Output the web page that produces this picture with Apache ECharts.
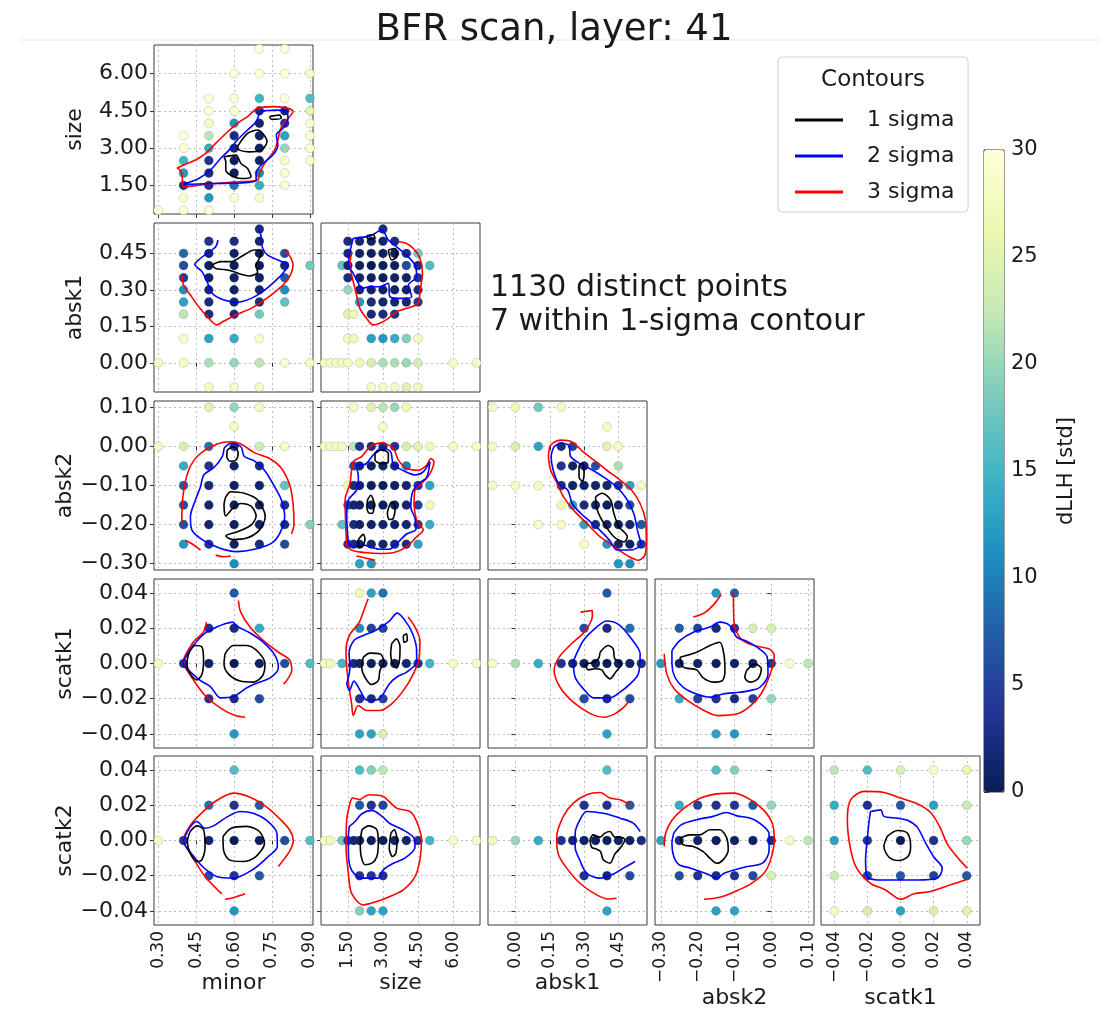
<!DOCTYPE html>
<html><head><meta charset="utf-8">
<script src="https://cdn.jsdelivr.net/npm/echarts/dist/echarts.min.js"></script>
<style>html,body{margin:0;padding:0;background:#fff}#chart{width:1108px;height:1025px}</style>
</head><body><div id="chart"></div>
<script>
// ---------------- data ----------------
const titleText = 'BFR scan, layer: 41';
const noteLines = ['1130 distinct points', '7 within 1-sigma contour'];
const legendNames = ['1 sigma', '2 sigma', '3 sigma'];
const legendTitle = 'Contours';
const colorbarName = 'dLLH [std]';
const colorbarRange = [0, 30];

const colVars = ['minor', 'size', 'absk1', 'absk2', 'scatk1'];
const rowVars = ['size', 'absk1', 'absk2', 'scatk1', 'scatk2'];

const minorRange = [0.283, 0.912];
const sizeRange = [0.35, 7.15];
const absk1Range = [-0.12, 0.575];
const absk2Range = [-0.316, 0.116];
const scatk1Range = [-0.048, 0.048];
const scatk2Range = [-0.048, 0.048];

const minorTicks = [0.30, 0.45, 0.60, 0.75, 0.90];
const sizeTicks = [1.5, 3.0, 4.5, 6.0];
const absk1Ticks = [0.00, 0.15, 0.30, 0.45];
const absk2Ticks = [-0.30, -0.20, -0.10, 0.00, 0.10];
const scatk1Ticks = [-0.04, -0.02, 0.00, 0.02, 0.04];
const scatk2Ticks = [-0.04, -0.02, 0.00, 0.02, 0.04];

const loop = p => p.concat([p[0]]);

// points: [x, y, dLLH]
const pts_size_minor = [
 [0.7,7,30],[0.8,7,30],
 [0.6,6,30],[0.7,6,30],[0.8,6,30],[0.9,6,28],
 [0.5,5,30],[0.6,5,29],[0.7,5,15],[0.8,5,30],[0.9,5,16],
 [0.5,4.5,30],[0.6,4.5,29],[0.7,4.5,2.5],[0.8,4.5,1.5],[0.9,4.5,25],
 [0.5,4,28],[0.6,4,12],[0.7,4,1.5],[0.8,4,4],[0.9,4,29],
 [0.4,3.5,30],[0.5,3.5,22],[0.6,3.5,2.5],[0.7,3.5,1],[0.8,3.5,13],[0.9,3.5,29],
 [0.4,3,30],[0.5,3,14],[0.6,3,1.5],[0.7,3,1],[0.8,3,20],[0.9,3,29],
 [0.4,2.5,15],[0.5,2.5,3.5],[0.6,2.5,0.5],[0.7,2.5,1],[0.8,2.5,29],[0.9,2.5,29],
 [0.4,2,12],[0.5,2,2.5],[0.6,2,0.5],[0.7,2,11],[0.8,2,29],
 [0.4,1.5,3],[0.5,1.5,3.5],[0.6,1.5,9],[0.7,1.5,14],[0.8,1.5,29],
 [0.4,1,29],[0.5,1,12],[0.6,1,29],[0.7,1,29],
 [0.3,0.5,30],[0.4,0.5,30],[0.5,0.5,30]
];
const pts_absk1_minor = [
 [0.7,0.55,2.5],
 [0.5,0.5,3.5],[0.6,0.5,2.5],[0.7,0.5,1.5],
 [0.4,0.45,8],[0.5,0.45,1.5],[0.6,0.45,1],[0.7,0.45,0.5],[0.8,0.45,6],
 [0.4,0.4,6],[0.5,0.4,0.5],[0.6,0.4,0.5],[0.7,0.4,0.5],[0.8,0.4,1.5],[0.9,0.4,18],
 [0.4,0.35,4],[0.5,0.35,1],[0.6,0.35,1],[0.7,0.35,1],[0.8,0.35,7],
 [0.4,0.3,11],[0.5,0.3,1.5],[0.6,0.3,1],[0.7,0.3,1.5],[0.8,0.3,11],
 [0.4,0.25,13],[0.5,0.25,2.5],[0.6,0.25,1.5],[0.7,0.25,2.5],[0.8,0.25,17],
 [0.4,0.2,22],[0.5,0.2,2.5],[0.6,0.2,2.5],[0.7,0.2,18],
 [0.4,0.1,29],[0.5,0.1,13],[0.6,0.1,14],[0.7,0.1,29],
 [0.3,0,28],[0.4,0,28],[0.5,0,21],[0.6,0,20],[0.7,0,22],[0.8,0,29],[0.9,0,28],
 [0.5,-0.1,28],[0.6,-0.1,28],[0.7,-0.1,28]
];
const pts_absk1_size = [
 [3,0.55,2.5],
 [1.5,0.5,2.5],[2,0.5,1.5],[2.5,0.5,1],[3,0.5,1.5],[3.5,0.5,2.5],
 [1.5,0.45,1.5],[2,0.45,1],[2.5,0.45,0.5],[3,0.45,0.5],[3.5,0.45,0.5],[4,0.45,2.5],[4.5,0.45,18],
 [1.25,0.4,17],[1.5,0.4,1.5],[2,0.4,0.5],[2.5,0.4,0],[3,0.4,0.5],[3.5,0.4,0.5],[4,0.4,6],[4.5,0.4,2.5],[5,0.4,16],
 [1.5,0.35,2.5],[2,0.35,1],[2.5,0.35,0.5],[3,0.35,0.5],[3.5,0.35,1],[4,0.35,1],[4.5,0.35,3.5],
 [1.5,0.3,20],[2,0.3,1.5],[2.5,0.3,1],[3,0.3,1],[3.5,0.3,1],[4,0.3,1],[4.5,0.3,2.5],
 [2,0.25,12],[2.5,0.25,2.5],[3,0.25,1.5],[3.5,0.25,1.5],[4,0.25,1.5],[4.5,0.25,4],
 [1.5,0.2,25],[1.75,0.2,27],[2.5,0.2,2.5],[3,0.2,2.5],[3.5,0.2,3.5],
 [1.5,0.1,28],[1.75,0.1,27],[2.5,0.1,13],[3,0.1,12],[3.5,0.1,14],[4,0.1,19],[4.5,0.1,28],
 [0.5,0,28],[0.75,0,28],[1,0,28],[1.25,0,28],[1.5,0,28],[2,0,27],[2.5,0,24],[3,0,21],[3.5,0,21],[4,0,20],[4.5,0,24],[6,0,28],[7,0,28],
 [2.5,-0.1,28],[3,-0.1,28],[3.5,-0.1,28],[4,-0.1,25],[4.5,-0.1,27]
];
const pts_absk2_minor = [
 [0.5,0.1,25],[0.6,0.1,20],[0.7,0.1,28],
 [0.6,0.05,28],
 [0.3,0,28],[0.4,0,24],[0.5,0,9],[0.6,0,3.5],[0.7,0,23],[0.8,0,28],
 [0.4,-0.05,14],[0.5,-0.05,3.5],[0.6,-0.05,1],[0.7,-0.05,2.5],
 [0.4,-0.1,7],[0.5,-0.1,2.5],[0.6,-0.1,1],[0.7,-0.1,1.5],[0.8,-0.1,17],
 [0.4,-0.15,6],[0.5,-0.15,1.5],[0.6,-0.15,0.5],[0.7,-0.15,1],[0.8,-0.15,3.5],
 [0.4,-0.2,6],[0.5,-0.2,1.5],[0.6,-0.2,0.5],[0.7,-0.2,1],[0.8,-0.2,2.5],[0.9,-0.2,19],
 [0.4,-0.25,12],[0.5,-0.25,3.5],[0.6,-0.25,1],[0.7,-0.25,2.5],[0.8,-0.25,6],
 [0.6,-0.3,11]
];
const pts_absk2_size = [
 [1.75,0.1,28],[2.5,0.1,25],[3,0.1,22],[3.5,0.1,20],[4,0.1,27],
 [3,0.05,28],
 [0.5,0,28],[0.75,0,28],[1,0,28],[1.25,0,28],[1.75,0,22],[2,0,3.5],[2.5,0,2.5],[3,0,2.5],[3.5,0,3.5],[4,0,24],[4.5,0,25],[5,0,27],[6,0,28],[7,0,28],
 [1.75,-0.05,6],[2,-0.05,1.5],[2.5,-0.05,1],[3,-0.05,1],[3.5,-0.05,1.5],[4,-0.05,10],
 [1.5,-0.1,27],[1.75,-0.1,2.5],[2,-0.1,1],[2.5,-0.1,0.5],[3,-0.1,0.5],[3.5,-0.1,1],[4,-0.1,1.5],[4.5,-0.1,3.5],[5,-0.1,13],
 [1.5,-0.15,5],[1.75,-0.15,1.5],[2,-0.15,1],[2.5,-0.15,0.5],[3,-0.15,0.5],[3.5,-0.15,0.5],[4,-0.15,1.5],[4.5,-0.15,5],[5,-0.15,27],
 [1.25,-0.2,17],[1.75,-0.2,2.5],[2,-0.2,1],[2.5,-0.2,1],[3,-0.2,1],[3.5,-0.2,1],[4,-0.2,1.5],[4.5,-0.2,3.5],[5,-0.2,14],
 [1.5,-0.25,3.5],[1.75,-0.25,2.5],[2,-0.25,1.5],[2.5,-0.25,1.5],[3,-0.25,1.5],[3.5,-0.25,2.5],[4,-0.25,2.5],[4.5,-0.25,13],
 [2,-0.3,13],[2.5,-0.3,12]
];
const pts_absk2_absk1 = [
 [-0.1,0.1,28],[0,0.1,27],[0.1,0.1,18],[0.2,0.1,28],
 [0.4,0.05,28],
 [-0.1,0,28],[0,0,24],[0.1,0,13],[0.2,0,2.5],[0.25,0,5],[0.4,0,25],[0.45,0,28],
 [0.2,-0.05,3.5],[0.25,-0.05,1],[0.3,-0.05,1.5],[0.35,-0.05,6],[0.45,-0.05,21],
 [-0.1,-0.1,28],[0,-0.1,28],[0.1,-0.1,28],[0.2,-0.1,2.5],[0.25,-0.1,1],[0.3,-0.1,1],[0.35,-0.1,1.5],[0.4,-0.1,1.5],[0.45,-0.1,3.5],[0.5,-0.1,13],[0.55,-0.1,28],
 [0.2,-0.15,27],[0.25,-0.15,13],[0.3,-0.15,2.5],[0.35,-0.15,1],[0.4,-0.15,0.5],[0.45,-0.15,1.5],[0.5,-0.15,6],
 [0.1,-0.2,28],[0.2,-0.2,28],[0.3,-0.2,13],[0.35,-0.2,2.5],[0.4,-0.2,1],[0.45,-0.2,0.5],[0.5,-0.2,1.5],[0.55,-0.2,7],
 [0.3,-0.25,28],[0.4,-0.25,12],[0.45,-0.25,1.5],[0.5,-0.25,1],[0.55,-0.25,3.5],
 [0.45,-0.3,12],[0.5,-0.3,11]
];
const pts_scatk1_minor = [
 [0.6,0.04,7],
 [0.5,0.02,3.5],[0.6,0.02,2.5],[0.7,0.02,14],
 [0.3,0,28],[0.4,0,3.5],[0.5,0,1],[0.6,0,0],[0.7,0,1],[0.8,0,6],[0.9,0,16],
 [0.5,-0.02,3.5],[0.6,-0.02,2.5],[0.7,-0.02,6],
 [0.6,-0.04,12]
];
const pts_scatk1_size = [
 [2,0.04,27],[2.5,0.04,13],[3,0.04,9],
 [2,0.02,11],[2.5,0.02,5],[3,0.02,5],
 [0.5,0,28],[0.75,0,27],[1.25,0,15],[1.75,0,2.5],[2,0,1],[2.5,0,0.5],[3,0,1],[3.5,0,0.5],[4,0,1.5],[4.5,0,3.5],[5,0,15],[6,0,28],[7,0,28],
 [2,-0.02,3.5],[2.5,-0.02,2.5],[3,-0.02,5],
 [2,-0.04,13],[2.5,-0.04,13],[3,-0.04,24]
];
const pts_scatk1_absk1 = [
 [0.4,0.04,7],
 [0.3,0.02,6],[0.4,0.02,2.5],[0.5,0.02,9],
 [-0.1,0,28],[0,0,21],[0.1,0,14],[0.2,0,3.5],[0.25,0,1.5],[0.3,0,1],[0.35,0,0.5],[0.4,0,0],[0.45,0,1],[0.5,0,1],[0.55,0,2.5],
 [0.3,-0.02,6],[0.4,-0.02,2.5],[0.5,-0.02,6],
 [0.4,-0.04,13]
];
const pts_scatk1_absk2 = [
 [-0.15,0.04,12],[-0.1,0.04,8],
 [-0.25,0.02,7],[-0.2,0.02,5],[-0.15,0.02,2.5],[-0.1,0.02,3.5],[-0.05,0.02,24],[0,0.02,24],
 [-0.3,0,12],[-0.25,0,1.5],[-0.2,0,1],[-0.15,0,0.5],[-0.1,0,1],[-0.05,0,1],[0,0,3.5],[0.05,0,29],[0.1,0,22],
 [-0.25,-0.02,14],[-0.2,-0.02,5],[-0.15,-0.02,3.5],[-0.1,-0.02,2.5],[-0.05,-0.02,5],[0,-0.02,20],
 [-0.15,-0.04,13],[-0.1,-0.04,12]
];
const pts_scatk2_minor = [
 [0.6,0.04,16],
 [0.5,0.02,9],[0.6,0.02,3.5],[0.7,0.02,7],
 [0.3,0,28],[0.4,0,3.5],[0.5,0,1.5],[0.6,0,0],[0.7,0,0.5],[0.8,0,6],[0.9,0,16],
 [0.5,-0.02,6],[0.6,-0.02,3.5],[0.7,-0.02,7],
 [0.6,-0.04,12]
];
const pts_scatk2_size = [
 [2,0.04,16],[2.5,0.04,19],[3,0.04,22],
 [2,0.02,7],[2.5,0.02,3.5],[3,0.02,5],
 [0.5,0,28],[0.75,0,27],[1.25,0,18],[1.5,0,3.5],[1.75,0,1.5],[2,0,1],[2.5,0,0.5],[3,0,0.5],[3.5,0,1],[4,0,1.5],[4.5,0,3.5],[5,0,15],[6,0,28],[7,0,28],
 [2,-0.02,3.5],[2.5,-0.02,3.5],[3,-0.02,3.5],
 [2,-0.04,19],[2.5,-0.04,13],[3,-0.04,13]
];
const pts_scatk2_absk1 = [
 [0.4,0.04,16],
 [0.3,0.02,3.5],[0.4,0.02,3.5],[0.5,0.02,7],
 [-0.1,0,27],[0,0,20],[0.1,0,14],[0.2,0,3.5],[0.25,0,1.5],[0.3,0,1],[0.35,0,0.5],[0.4,0,0.5],[0.45,0,1],[0.5,0,1],[0.55,0,2.5],
 [0.3,-0.02,3.5],[0.4,-0.02,1.5],[0.5,-0.02,6],
 [0.4,-0.04,13]
];
const pts_scatk2_absk2 = [
 [-0.15,0.04,16],[-0.1,0.04,19],
 [-0.25,0.02,14],[-0.2,0.02,5],[-0.15,0.02,3.5],[-0.1,0.02,3.5],[-0.05,0.02,7],[0,0.02,20],
 [-0.3,0,13],[-0.25,0,2.5],[-0.2,0,1],[-0.15,0,0.5],[-0.1,0,1],[-0.05,0,1],[0,0,2.5],[0.05,0,28],[0.1,0,22],
 [-0.25,-0.02,6],[-0.2,-0.02,3.5],[-0.15,-0.02,2.5],[-0.1,-0.02,3.5],[-0.05,-0.02,6],[0,-0.02,24],
 [-0.15,-0.04,13],[-0.1,-0.04,13]
];
const pts_scatk2_scatk1 = [
 [-0.04,0.04,22],[-0.02,0.04,16],[0,0.04,24],[0.02,0.04,28],[0.04,0.04,26],
 [-0.04,0.02,14],[-0.02,0.02,3.5],[0,0.02,7],[0.02,0.02,13],[0.04,0.02,23],
 [-0.04,0,13],[-0.02,0,3.5],[0,0,0],[0.02,0,3.5],[0.04,0,20],
 [-0.04,-0.02,23],[-0.02,-0.02,5],[0,-0.02,7],[0.02,-0.02,5],[0.04,-0.02,7],
 [-0.04,-0.04,28],[-0.02,-0.04,24],[0,-0.04,13],[0.02,-0.04,24],[0.04,-0.04,25]
];

// contour paths (c1 = 1 sigma, c2 = 2 sigma, c3 = 3 sigma), data coordinates
const c1_size_minor = [
 loop([[0.56,2.65],[0.607,2.72],[0.627,2.38],[0.653,2.18],[0.667,1.85],[0.627,1.78],[0.587,1.91],[0.567,2.12],[0.567,2.45]]),
 loop([[0.613,3.06],[0.653,3.59],[0.693,3.73],[0.73,3.26],[0.707,2.92],[0.66,2.85],[0.62,2.92]]),
 loop([[0.74,4.27],[0.78,4.33],[0.787,4.2],[0.747,4.16]])
];
const c2_size_minor = [
 loop([[0.4,1.55],[0.46,1.78],[0.507,2.12],[0.547,2.59],[0.58,2.92],[0.613,3.33],[0.653,3.73],[0.687,4.06],[0.707,4.47],[0.773,4.53],[0.807,4.47],[0.813,4.2],[0.793,3.8],[0.767,3.53],[0.773,3.12],[0.753,2.72],[0.707,2.32],[0.687,1.98],[0.687,1.71],[0.627,1.6],[0.52,1.58],[0.413,1.55]])
];
const c3_size_minor = [
 [[0.373,2.18],[0.4,2.32],[0.447,2.52],[0.487,2.79],[0.527,3.19],[0.567,3.59],[0.613,4.0],[0.653,4.27],[0.693,4.6],[0.76,4.67],[0.813,4.6],[0.833,4.47],[0.82,4.27],[0.787,3.86],[0.773,3.33],[0.76,2.92],[0.72,2.38],[0.70,1.98],[0.693,1.71],[0.62,1.65],[0.493,1.55],[0.40,1.44],[0.393,1.98],[0.38,2.18]]
];

const c1_absk1_minor = [
 loop([[0.513,0.402],[0.547,0.416],[0.587,0.416],[0.627,0.436],[0.68,0.464],[0.709,0.46],[0.70,0.43],[0.687,0.402],[0.693,0.372],[0.66,0.357],[0.627,0.364],[0.593,0.377],[0.56,0.384],[0.527,0.388]])
];
const c2_absk1_minor = [
 [[0.536,0.505],[0.527,0.477],[0.493,0.45],[0.467,0.43],[0.444,0.405],[0.473,0.375],[0.493,0.334],[0.513,0.286],[0.56,0.258],[0.613,0.249],[0.667,0.265],[0.713,0.293],[0.76,0.334],[0.793,0.368],[0.813,0.402],[0.773,0.423],[0.733,0.443],[0.713,0.47],[0.707,0.518],[0.70,0.546]]
];
const c3_absk1_minor = [
 [[0.80,0.464],[0.824,0.432],[0.833,0.402],[0.824,0.364],[0.80,0.327],[0.76,0.29],[0.713,0.254],[0.667,0.224],[0.613,0.2],[0.56,0.172],[0.531,0.156],[0.50,0.183],[0.46,0.231],[0.427,0.279],[0.40,0.32],[0.393,0.361]]
];

const c1_absk1_size = [
 loop([[2.30,0.522],[2.58,0.528],[2.66,0.512],[2.37,0.509]]),
 loop([[3.23,0.464],[3.52,0.47],[3.59,0.436],[3.37,0.423]])
];
const c2_absk1_size = [
 loop([[1.73,0.512],[2.45,0.522],[2.95,0.546],[3.23,0.505],[3.59,0.477],[4.01,0.443],[4.37,0.402],[4.44,0.354],[4.09,0.32],[4.23,0.272],[3.73,0.265],[3.30,0.272],[3.23,0.327],[2.87,0.313],[2.45,0.313],[2.09,0.306],[1.95,0.327],[1.73,0.368],[1.52,0.405],[1.59,0.457]])
];
const c3_absk1_size = [
 [[3.66,0.498],[4.01,0.491],[4.30,0.47],[4.58,0.43],[4.69,0.368],[4.58,0.293],[4.51,0.245],[4.01,0.224],[3.58,0.21],[3.23,0.183],[2.87,0.163],[2.58,0.156],[2.30,0.183],[2.01,0.224],[1.87,0.279],[1.73,0.334],[1.59,0.402],[1.66,0.457]]
];

const c1_absk2_minor = [
 loop([[0.573,-0.009],[0.597,-0.001],[0.616,-0.016],[0.607,-0.035],[0.584,-0.038],[0.571,-0.025]]),
 loop([[0.567,-0.129],[0.587,-0.116],[0.64,-0.12],[0.693,-0.137],[0.723,-0.18],[0.70,-0.214],[0.647,-0.235],[0.593,-0.238],[0.567,-0.229],[0.613,-0.218],[0.667,-0.201],[0.687,-0.178],[0.667,-0.153],[0.627,-0.146],[0.593,-0.159],[0.567,-0.178],[0.56,-0.15]])
];
const c2_absk2_minor = [
 loop([[0.56,-0.005],[0.587,0.008],[0.627,-0.001],[0.64,-0.026],[0.68,-0.037],[0.72,-0.061],[0.76,-0.103],[0.787,-0.137],[0.80,-0.18],[0.78,-0.223],[0.747,-0.248],[0.68,-0.263],[0.613,-0.269],[0.547,-0.261],[0.48,-0.241],[0.433,-0.214],[0.427,-0.18],[0.447,-0.137],[0.467,-0.103],[0.48,-0.073],[0.52,-0.054],[0.553,-0.026]])
];
const c3_absk2_minor = [
 [[0.393,-0.197],[0.397,-0.129],[0.42,-0.061],[0.46,-0.022],[0.533,0.006],[0.587,0.012],[0.627,0.006],[0.68,-0.016],[0.74,-0.031],[0.787,-0.056],[0.82,-0.099],[0.833,-0.146],[0.837,-0.197],[0.827,-0.224]],
 [[0.407,-0.24],[0.44,-0.252],[0.467,-0.265]],
 [[0.527,-0.278],[0.56,-0.282],[0.587,-0.28]]
];

const c1_absk2_size = [
 loop([[2.66,-0.018],[2.95,-0.009],[3.23,-0.018],[3.23,-0.039],[2.95,-0.044],[2.66,-0.035]]),
 loop([[2.34,-0.137],[2.48,-0.125],[2.62,-0.146],[2.55,-0.171],[2.41,-0.171],[2.31,-0.154]]),
 loop([[3.23,-0.159],[3.37,-0.142],[3.52,-0.154],[3.44,-0.184],[3.27,-0.187],[3.19,-0.171]]),
 loop([[1.95,-0.238],[2.16,-0.225],[2.23,-0.238],[2.09,-0.257],[1.95,-0.257]])
];
const c2_absk2_size = [
 loop([[1.52,-0.248],[1.45,-0.18],[1.52,-0.137],[1.87,-0.112],[1.95,-0.078],[1.87,-0.05],[2.27,-0.045],[2.58,-0.022],[2.95,-0.003],[3.33,-0.014],[3.44,-0.045],[3.87,-0.062],[4.37,-0.073],[4.72,-0.065],[5.01,-0.039],[4.87,-0.079],[4.51,-0.096],[4.27,-0.116],[4.19,-0.154],[4.37,-0.184],[4.41,-0.212],[4.01,-0.224],[3.66,-0.244],[3.27,-0.263],[2.87,-0.263],[2.45,-0.257],[2.02,-0.25],[1.73,-0.257]])
];
const c3_absk2_size = [
 loop([[1.45,-0.257],[1.38,-0.137],[1.59,-0.095],[1.73,-0.039],[2.09,-0.026],[2.45,-0.001],[2.95,0.009],[3.44,-0.005],[3.66,-0.035],[4.01,-0.056],[4.51,-0.061],[4.87,-0.048],[5.04,-0.031],[5.18,-0.039],[4.98,-0.073],[4.65,-0.095],[4.37,-0.112],[4.33,-0.146],[4.44,-0.188],[4.72,-0.214],[4.44,-0.231],[4.01,-0.257],[3.44,-0.272],[2.87,-0.274],[2.30,-0.272],[1.73,-0.267]]),
 [[1.87,-0.28],[2.30,-0.286],[2.66,-0.291]]
];

const c1_absk2_absk1 = [
 loop([[0.278,-0.048],[0.293,-0.043],[0.30,-0.069],[0.293,-0.09],[0.278,-0.078]]),
 loop([[0.35,-0.129],[0.379,-0.12],[0.416,-0.137],[0.43,-0.171],[0.452,-0.205],[0.489,-0.231],[0.475,-0.244],[0.43,-0.231],[0.387,-0.197],[0.358,-0.163]])
];
const c2_absk2_absk1 = [
 loop([[0.168,-0.001],[0.197,0.008],[0.234,0.001],[0.241,-0.026],[0.285,-0.045],[0.332,-0.059],[0.387,-0.079],[0.445,-0.105],[0.489,-0.137],[0.518,-0.173],[0.533,-0.214],[0.548,-0.25],[0.504,-0.265],[0.445,-0.265],[0.413,-0.241],[0.372,-0.216],[0.328,-0.193],[0.285,-0.171],[0.248,-0.146],[0.229,-0.112],[0.19,-0.096],[0.165,-0.061],[0.156,-0.026]])
];
const c3_absk2_absk1 = [
 loop([[0.144,-0.026],[0.154,0.003],[0.197,0.016],[0.245,0.012],[0.296,-0.014],[0.343,-0.035],[0.399,-0.061],[0.457,-0.086],[0.508,-0.112],[0.545,-0.146],[0.568,-0.188],[0.572,-0.24],[0.566,-0.278],[0.537,-0.291],[0.486,-0.278],[0.428,-0.255],[0.37,-0.231],[0.312,-0.197],[0.254,-0.163],[0.21,-0.129],[0.181,-0.093],[0.154,-0.061]])
];

const c1_scatk1_minor = [
 loop([[0.42,0.0055],[0.446,0.0102],[0.473,0.0093],[0.479,0.0017],[0.473,-0.0059],[0.453,-0.0093],[0.426,-0.0059],[0.413,-0.0002]]),
 loop([[0.564,0.0055],[0.597,0.0102],[0.65,0.0102],[0.696,0.0064],[0.722,-0.0002],[0.713,-0.0068],[0.676,-0.0106],[0.624,-0.01],[0.577,-0.0059],[0.56,-0.0002]])
];
const c2_scatk1_minor = [
 loop([[0.399,0.0013],[0.438,0.0102],[0.485,0.0173],[0.531,0.0207],[0.564,0.0226],[0.594,0.0235],[0.613,0.021],[0.663,0.0173],[0.715,0.0121],[0.762,0.0045],[0.775,-0.0025],[0.742,-0.0082],[0.689,-0.0112],[0.65,-0.0138],[0.598,-0.0188],[0.546,-0.0195],[0.506,-0.0131],[0.467,-0.0097],[0.428,-0.0049],[0.399,-0.0002]])
];
const c3_scatk1_minor = [
 [[0.491,0.0235],[0.478,0.0178],[0.438,0.0121],[0.399,0.0008],[0.432,-0.0078],[0.485,-0.0182],[0.551,-0.0258],[0.604,-0.0296],[0.643,-0.0305]],
 [[0.617,0.0358],[0.626,0.0292],[0.663,0.0207],[0.715,0.0131],[0.775,0.0064],[0.819,0.0021],[0.828,-0.004],[0.808,-0.0097],[0.795,-0.0116]]
];

const c1_scatk1_size = [
 loop([[2.16,0.0036],[2.44,0.0059],[2.87,0.0055],[3.04,0.0013],[2.87,-0.004],[2.8,-0.0097],[2.51,-0.0119],[2.23,-0.0078],[2.09,-0.0021]]),
 loop([[3.37,0.0112],[3.58,0.014],[3.73,0.0093],[3.7,0.0013],[3.58,-0.0025],[3.41,-0.0002],[3.33,0.0055]]),
 loop([[3.87,0.0159],[4.01,0.0169],[4.04,0.0131],[3.9,0.0121]])
];
const c2_scatk1_size = [
 loop([[1.45,-0.0116],[1.59,-0.0021],[1.55,0.0055],[1.76,0.0131],[2.16,0.0159],[2.73,0.0191],[3.27,0.0241],[3.61,0.0286],[3.94,0.0245],[4.27,0.0169],[4.44,0.0074],[4.44,0.0008],[4.01,-0.0049],[3.58,-0.0078],[3.27,-0.0116],[3.01,-0.0173],[2.73,-0.0207],[2.3,-0.0207],[2.04,-0.0157],[1.76,-0.01],[1.56,-0.0154]])
];
const c3_scatk1_size = [
 [[2.37,0.0368],[2.23,0.032],[1.99,0.0235],[1.56,0.0159],[1.42,0.0074],[1.45,-0.0021],[1.55,-0.0135],[1.66,-0.0229],[1.73,-0.0296],[1.94,-0.0239],[2.3,-0.0267],[2.87,-0.0267],[3.37,-0.0229],[3.87,-0.0154],[4.3,-0.0059],[4.55,0.0036],[4.58,0.0131],[4.37,0.0207],[4.08,0.0264]]
];

const c1_scatk1_absk1 = [
 loop([[0.37,0.0064],[0.405,0.0102],[0.427,0.0083],[0.434,0.0027],[0.463,-0.0002],[0.438,-0.0049],[0.413,-0.0087],[0.391,-0.0063],[0.377,-0.0036],[0.348,-0.003],[0.319,-0.0036],[0.305,-0.0006],[0.341,0.0006],[0.363,0.0027]])
];
const c2_scatk1_absk1 = [
 loop([[0.253,0.0013],[0.297,0.0131],[0.355,0.0207],[0.399,0.0241],[0.45,0.0222],[0.501,0.015],[0.545,0.0055],[0.537,-0.0059],[0.501,-0.0116],[0.457,-0.0163],[0.413,-0.0195],[0.341,-0.0195],[0.297,-0.0144],[0.261,-0.0078]])
];
const c3_scatk1_absk1 = [
 [[0.285,0.0292],[0.336,0.0301],[0.336,0.0267],[0.3,0.0178],[0.245,0.0112],[0.191,0.0036],[0.169,-0.004],[0.195,-0.0135],[0.253,-0.022],[0.329,-0.0286],[0.387,-0.0305],[0.434,-0.0286],[0.474,-0.0248],[0.492,-0.022]]
];

const c1_scatk1_absk2 = [
 loop([[-0.248,0.0036],[-0.203,0.0064],[-0.167,0.0102],[-0.14,0.0121],[-0.129,0.0055],[-0.126,-0.004],[-0.133,-0.0097],[-0.158,-0.0106],[-0.185,-0.0082],[-0.203,-0.0036],[-0.239,-0.0021]]),
 loop([[-0.067,-0.004],[-0.045,-0.0002],[-0.027,-0.003],[-0.036,-0.0087],[-0.058,-0.0106],[-0.072,-0.0078]])
];
const c2_scatk1_absk2 = [
 loop([[-0.27,0.0074],[-0.248,0.0131],[-0.212,0.0178],[-0.167,0.0207],[-0.14,0.0235],[-0.113,0.0216],[-0.094,0.015],[-0.067,0.0127],[-0.036,0.0089],[-0.011,0.0036],[-0.009,-0.0059],[-0.031,-0.0135],[-0.058,-0.0154],[-0.085,-0.0163],[-0.131,-0.0173],[-0.167,-0.0191],[-0.203,-0.0173],[-0.239,-0.0135],[-0.262,-0.0078],[-0.27,-0.0002]])
];
const c3_scatk1_absk2 = [
 [[-0.212,0.0264],[-0.183,0.0286],[-0.156,0.0336],[-0.136,0.0392]],
 [[-0.103,0.0406],[-0.101,0.0226],[-0.083,0.014],[-0.047,0.0102],[-0.006,0.0083],[0.008,0.0045],[0.003,-0.0021],[-0.01,-0.0097],[-0.028,-0.0173],[-0.056,-0.0239],[-0.092,-0.0286],[-0.146,-0.0296],[-0.183,-0.0267],[-0.228,-0.021],[-0.264,-0.0144],[-0.284,-0.0059],[-0.291,0.0055]]
];

const c1_scatk2_minor = [
 loop([[0.426,0.0051],[0.453,0.0083],[0.479,0.0061],[0.485,-0.0034],[0.472,-0.011],[0.453,-0.0119],[0.426,-0.0072],[0.415,-0.0006]]),
 loop([[0.556,0.0023],[0.589,0.007],[0.65,0.008],[0.7,0.0051],[0.72,-0.0015],[0.686,-0.0091],[0.634,-0.0119],[0.581,-0.011],[0.558,-0.0053]])
];
const c2_scatk2_minor = [
 loop([[0.399,0],[0.426,0.0076],[0.453,0.0108],[0.485,0.007],[0.518,0.0083],[0.571,0.0133],[0.624,0.0165],[0.676,0.0155],[0.729,0.0114],[0.769,0.0042],[0.771,-0.0034],[0.732,-0.0095],[0.676,-0.0163],[0.597,-0.0214],[0.531,-0.0205],[0.478,-0.0152],[0.438,-0.0087],[0.405,-0.0025]])
];
const c3_scatk2_minor = [
 [[0.551,-0.0303],[0.485,-0.0205],[0.426,-0.0072],[0.399,0.0],[0.428,0.0089],[0.478,0.0165],[0.531,0.0227],[0.597,0.0269],[0.663,0.0246],[0.729,0.019],[0.782,0.0121],[0.821,0.0057],[0.834,0.0],[0.821,-0.0057],[0.795,-0.011],[0.775,-0.0148]],
 [[0.564,-0.0334],[0.604,-0.0322],[0.643,-0.0303]]
];

const c1_scatk2_size = [
 loop([[2.1,0.0061],[2.39,0.0083],[2.74,0.0061],[2.8,-0.0015],[2.74,-0.0091],[2.53,-0.0129],[2.24,-0.0138],[2.07,-0.0091],[2.03,-0.0015]]),
 loop([[3.34,0.0042],[3.48,0.0061],[3.6,0.0004],[3.55,-0.0072],[3.41,-0.0091],[3.27,-0.0044]])
];
const c2_scatk2_size = [
 loop([[1.56,0.008],[1.81,0.0108],[2.1,0.0152],[2.53,0.0171],[2.96,0.0137],[3.31,0.0095],[3.81,0.0064],[4.3,0.0019],[4.37,-0.0038],[3.94,-0.01],[3.44,-0.0129],[3.01,-0.0167],[2.8,-0.0214],[2.1,-0.0214],[1.81,-0.0195],[1.59,-0.0148],[1.52,-0.0053],[1.52,0.0023]])
];
const c3_scatk2_size = [
 loop([[2.01,0.0231],[2.44,0.026],[3.01,0.025],[3.58,0.0184],[4.15,0.0165],[4.44,0.0108],[4.65,0.0004],[4.58,-0.011],[4.37,-0.0205],[3.87,-0.0281],[3.3,-0.0318],[2.73,-0.0347],[2.16,-0.0366],[1.66,-0.03],[1.52,-0.0186],[1.42,-0.0034],[1.45,0.0118],[1.59,0.0212],[1.7,0.0241]])
];

const c1_scatk2_absk1 = [
 loop([[0.326,0.0004],[0.34,0.0032],[0.37,0.0019],[0.391,0.0042],[0.413,0.0051],[0.435,0.0019],[0.457,0.0019],[0.479,0.0004],[0.457,-0.0044],[0.435,-0.0076],[0.413,-0.0129],[0.384,-0.011],[0.372,-0.0063],[0.355,-0.0049],[0.333,-0.0038]])
];
const c2_scatk2_absk1 = [
 [[0.545,0.0051],[0.515,0.0099],[0.457,0.0127],[0.384,0.0155],[0.311,0.0165],[0.282,0.0118],[0.261,0.0042],[0.261,-0.0038],[0.282,-0.0114],[0.311,-0.0186],[0.37,-0.0214],[0.428,-0.019],[0.472,-0.0157],[0.523,-0.0119]]
];
const c3_scatk2_absk1 = [
 [[0.501,0.0203],[0.457,0.0231],[0.413,0.0241],[0.37,0.0273],[0.311,0.026],[0.253,0.0212],[0.209,0.0136],[0.18,0.0019],[0.187,-0.0076],[0.224,-0.0157],[0.282,-0.0243],[0.355,-0.0309],[0.406,-0.0332],[0.442,-0.0328]]
];

const c1_scatk2_absk2 = [
 loop([[-0.248,0.0013],[-0.221,0.0032],[-0.194,0.0032],[-0.167,0.0061],[-0.14,0.0061],[-0.122,0.0019],[-0.117,-0.0053],[-0.131,-0.011],[-0.149,-0.0129],[-0.167,-0.01],[-0.185,-0.0063],[-0.212,-0.0034],[-0.239,-0.0025]])
];
const c2_scatk2_absk2 = [
 loop([[-0.265,0.0042],[-0.245,0.0089],[-0.203,0.0118],[-0.158,0.0137],[-0.122,0.0159],[-0.093,0.014],[-0.056,0.0127],[-0.029,0.0095],[-0.006,0.0038],[-0.006,-0.0057],[-0.024,-0.0129],[-0.065,-0.0148],[-0.101,-0.0167],[-0.128,-0.0186],[-0.147,-0.0214],[-0.174,-0.019],[-0.219,-0.0157],[-0.25,-0.0138],[-0.265,-0.0091],[-0.27,-0.0015]])
];
const c3_scatk2_absk2 = [
 [[-0.291,-0.0034],[-0.287,0.0042],[-0.269,0.0118],[-0.237,0.0184],[-0.192,0.0241],[-0.147,0.0265],[-0.101,0.0269],[-0.056,0.0231],[-0.02,0.0171],[0.003,0.0095],[0.008,0.0004],[-0.002,-0.011],[-0.02,-0.0186],[-0.056,-0.0246],[-0.092,-0.0284],[-0.128,-0.0315],[-0.155,-0.0328],[-0.183,-0.0334]]
];

const c1_scatk2_scatk1 = [
 loop([[-0.008,0.0023],[-0.0019,0.0057],[0.0041,0.0042],[0.0061,-0.0034],[0.0045,-0.0091],[-0.0009,-0.0114],[-0.0069,-0.0095],[-0.01,-0.0034]])
];
const c2_scatk2_scatk1 = [
 loop([[-0.0181,0.0165],[-0.012,0.0174],[-0.01,0.0137],[-0.0019,0.0127],[0.0045,0.0114],[0.0101,0.0076],[0.0152,-0.0015],[0.0202,-0.0095],[0.0252,-0.0157],[0.0222,-0.0214],[0.0101,-0.0224],[-0.0019,-0.0224],[-0.014,-0.0224],[-0.0201,-0.0205],[-0.0211,-0.011],[-0.0201,0.0004],[-0.0191,0.0099]])
];
const c3_scatk2_scatk1 = [
 [[0.0403,-0.0157],[0.0343,-0.0095],[0.0282,-0.0019],[0.0238,0.0076],[0.0182,0.0159],[0.0101,0.0209],[0.0001,0.0241],[-0.01,0.0273],[-0.0221,0.0279],[-0.0301,0.0231],[-0.0321,0.0118],[-0.0301,-0.0053],[-0.0261,-0.0163],[-0.0181,-0.0243],[-0.009,-0.0281],[0.0001,-0.0334],[0.0081,-0.0303],[0.0182,-0.029],[0.0302,-0.0252],[0.0403,-0.022]]
];

// ---------------- build ----------------
const FONT = 'DejaVu Sans';
const TXT = '#1a1a1a';
const ylgnbuR = ['#081d58','#253494','#225ea8','#1d91c0','#41b6c4','#7fcdbb','#c7e9b4','#edf8b1','#ffffd9'];
const sigmaColors = ['#000000', '#0000ff', '#ff0000'];

const rangeOf = {minor: minorRange, size: sizeRange, absk1: absk1Range, absk2: absk2Range, scatk1: scatk1Range, scatk2: scatk2Range};
const ticksOf = {minor: minorTicks, size: sizeTicks, absk1: absk1Ticks, absk2: absk2Ticks, scatk1: scatk1Ticks, scatk2: scatk2Ticks};

const panels = [
 [0,0,pts_size_minor,c1_size_minor,c2_size_minor,c3_size_minor],
 [1,0,pts_absk1_minor,c1_absk1_minor,c2_absk1_minor,c3_absk1_minor],
 [1,1,pts_absk1_size,c1_absk1_size,c2_absk1_size,c3_absk1_size],
 [2,0,pts_absk2_minor,c1_absk2_minor,c2_absk2_minor,c3_absk2_minor],
 [2,1,pts_absk2_size,c1_absk2_size,c2_absk2_size,c3_absk2_size],
 [2,2,pts_absk2_absk1,c1_absk2_absk1,c2_absk2_absk1,c3_absk2_absk1],
 [3,0,pts_scatk1_minor,c1_scatk1_minor,c2_scatk1_minor,c3_scatk1_minor],
 [3,1,pts_scatk1_size,c1_scatk1_size,c2_scatk1_size,c3_scatk1_size],
 [3,2,pts_scatk1_absk1,c1_scatk1_absk1,c2_scatk1_absk1,c3_scatk1_absk1],
 [3,3,pts_scatk1_absk2,c1_scatk1_absk2,c2_scatk1_absk2,c3_scatk1_absk2],
 [4,0,pts_scatk2_minor,c1_scatk2_minor,c2_scatk2_minor,c3_scatk2_minor],
 [4,1,pts_scatk2_size,c1_scatk2_size,c2_scatk2_size,c3_scatk2_size],
 [4,2,pts_scatk2_absk1,c1_scatk2_absk1,c2_scatk2_absk1,c3_scatk2_absk1],
 [4,3,pts_scatk2_absk2,c1_scatk2_absk2,c2_scatk2_absk2,c3_scatk2_absk2],
 [4,4,pts_scatk2_scatk1,c1_scatk2_scatk1,c2_scatk2_scatk1,c3_scatk2_scatk1]
];

const colLeft = [154, 321, 488, 655, 821];
const rowTop = [45, 223, 401, 579, 756];
const PW = 159, PH = 169;
const fmt = v => v.toFixed(2).replace('-', '\u2212');
const xNameGap = {minor: 45, size: 45, absk1: 45, absk2: 59, scatk1: 59};

const grids = [], xAxes = [], yAxes = [], series = [], scatterIdx = [];
panels.forEach((p, i) => {
  const [r, c, pts, c1, c2, c3] = p;
  const xv = colVars[c], yv = rowVars[r];
  grids.push({left: colLeft[c], top: rowTop[r], width: PW, height: PH, show: true,
    borderColor: '#3a3a3a', borderWidth: 1, backgroundColor: 'transparent', containLabel: false, outerBoundsMode: 'none'});
  const bottom = r === 4, left = c === 0;
  xAxes.push({gridIndex: i, type: 'value', min: rangeOf[xv][0], max: rangeOf[xv][1],
    axisLine: {show: false},
    axisTick: {show: true, length: 4, lineStyle: {color: '#333'}, customValues: ticksOf[xv]},
    axisLabel: {show: bottom, customValues: ticksOf[xv], rotate: 90, formatter: fmt, fontSize: 17, color: TXT, fontFamily: FONT, margin: 6},
    splitLine: {show: true, lineStyle: {type: [2, 3], color: '#bdbdbd', width: 1}},
    name: bottom ? xv : '', nameLocation: 'middle', nameGap: xNameGap[xv],
    nameTextStyle: {fontSize: 22, color: TXT, fontFamily: FONT}});
  yAxes.push({gridIndex: i, type: 'value', min: rangeOf[yv][0], max: rangeOf[yv][1],
    axisLine: {show: false},
    axisTick: {show: true, length: 4, lineStyle: {color: '#333'}, customValues: ticksOf[yv]},
    axisLabel: {show: left, customValues: ticksOf[yv], formatter: fmt, fontSize: 22, color: TXT, fontFamily: FONT, margin: 6},
    splitLine: {show: true, lineStyle: {type: [2, 3], color: '#bdbdbd', width: 1}},
    name: left ? yv : '', nameLocation: 'middle', nameGap: 68, nameRotate: 90,
    nameTextStyle: {fontSize: 22, color: TXT, fontFamily: FONT}});
  scatterIdx.push(series.length);
  series.push({type: 'scatter', xAxisIndex: i, yAxisIndex: i, data: pts, symbolSize: 9,
    itemStyle: {opacity: 1, borderColor: 'rgba(60,60,30,0.22)', borderWidth: 0.8},
    z: 2, silent: true, animation: false});
  [c1, c2, c3].forEach((paths, k) => {
    paths.forEach(path => {
      series.push({type: 'line', name: legendNames[k], xAxisIndex: i, yAxisIndex: i, data: path,
        symbol: 'none', showSymbol: false, smooth: 0.3, z: 3 + (2 - k), silent: true, animation: false,
        lineStyle: {color: sigmaColors[k], width: 1.6}, itemStyle: {color: sigmaColors[k]}});
    });
  });
});

// colour bar axis
const cbIdx = panels.length;
grids.push({left: 984, top: 150, width: 20, height: 642, show: true, borderColor: '#3a3a3a', borderWidth: 1,
  backgroundColor: 'transparent', containLabel: false, outerBoundsMode: 'none'});
xAxes.push({gridIndex: cbIdx, type: 'value', show: false, min: 0, max: 1});
yAxes.push({gridIndex: cbIdx, type: 'value', position: 'right', min: colorbarRange[0], max: colorbarRange[1], interval: 5,
  axisLine: {show: false}, splitLine: {show: false},
  axisTick: {show: true, length: 5, lineStyle: {color: '#333'}},
  axisLabel: {fontSize: 21, color: TXT, fontFamily: FONT, margin: 7},
  name: colorbarName, nameLocation: 'middle', nameRotate: 90, nameGap: 52,
  nameTextStyle: {fontSize: 21, color: TXT, fontFamily: FONT}});
series.push({type: 'scatter', xAxisIndex: cbIdx, yAxisIndex: cbIdx, data: [], silent: true});

const option = {
  backgroundColor: '#ffffff',
  animation: false,
  title: {text: titleText, left: 'center', top: 7,
    textStyle: {fontSize: 37, fontWeight: 'normal', color: TXT, fontFamily: FONT}},
  grid: grids, xAxis: xAxes, yAxis: yAxes, series: series,
  visualMap: {type: 'continuous', min: colorbarRange[0], max: colorbarRange[1], dimension: 2,
    seriesIndex: scatterIdx, inRange: {color: ylgnbuR}, calculable: false, realtime: false,
    left: 984, top: 150, itemWidth: 20, itemHeight: 642, padding: 0, text: null,
    orient: 'vertical', hoverLink: false, show: true},
  legend: {data: legendNames, orient: 'vertical', left: 790, top: 104, itemWidth: 48, itemHeight: 3,
    icon: 'rect', itemGap: 14, z: 10, selectedMode: false,
    textStyle: {fontSize: 22, color: TXT, fontFamily: FONT, padding: [0, 0, 0, 19]}},
  graphic: [
    {type: 'line', shape: {x1: 20, y1: 40, x2: 1100, y2: 40}, style: {stroke: '#e4e4e4', lineWidth: 1}, z: 0},
    {type: 'rect', shape: {x: 778, y: 57, width: 190, height: 155, r: 4}, style: {fill: '#fff', stroke: '#d0d0d0', lineWidth: 1}, z: 0},
    {type: 'text', x: 873, y: 80, style: {text: legendTitle, fontSize: 23, fill: TXT, fontFamily: FONT, align: 'center', verticalAlign: 'middle'}, z: 5},
    {type: 'text', x: 490, y: 271, style: {text: noteLines.join('\n'), fontSize: 30, lineHeight: 34, fill: TXT, fontFamily: FONT, align: 'left', verticalAlign: 'top'}, z: 5}
  ]
};

const chart = echarts.init(document.getElementById('chart'), null, {renderer: 'canvas'});
chart.setOption(option);
</script></body></html>
